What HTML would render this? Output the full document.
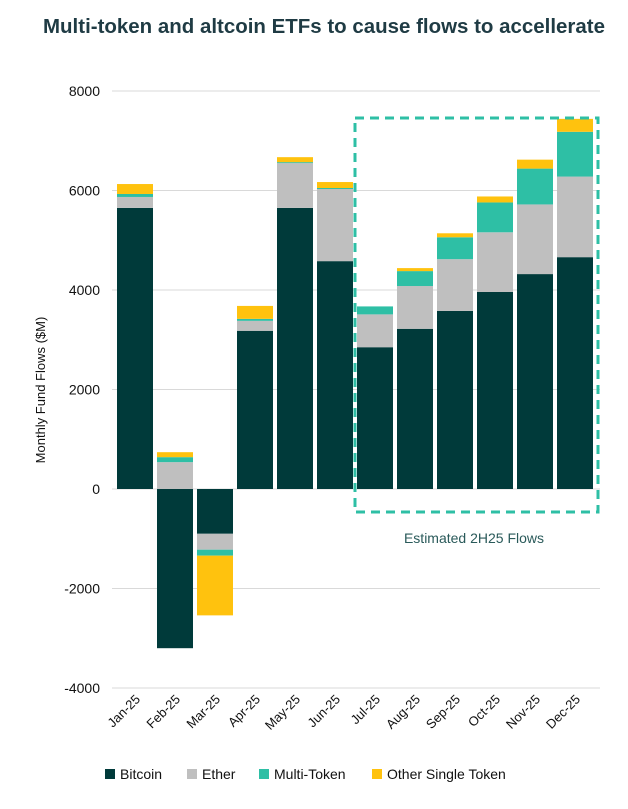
<!DOCTYPE html>
<html><head><meta charset="utf-8"><style>
body{margin:0;background:#fff;font-family:"Liberation Sans",sans-serif}
</style></head><body>
<svg id="chart" width="628" height="804" xmlns="http://www.w3.org/2000/svg">
<text x="324" y="33" text-anchor="middle" font-size="20" font-weight="bold" fill="#1f3b44" textLength="562" lengthAdjust="spacingAndGlyphs">Multi-token and altcoin ETFs to cause flows to accellerate</text>
<text transform="translate(45,390) rotate(-90)" text-anchor="middle" font-size="13" fill="#111">Monthly Fund Flows ($M)</text>
<g id="grid"></g><g id="bars"></g><g id="xl"></g>
<rect x="355" y="118" width="243" height="394" fill="none" stroke="#2ebfa5" stroke-width="3" stroke-dasharray="9,6"/>
<text x="474" y="543" text-anchor="middle" font-size="14" fill="#2a5a5a">Estimated 2H25 Flows</text>
<g id="legend"></g>
</svg>
<script>
const categories=["Jan-25","Feb-25","Mar-25","Apr-25","May-25","Jun-25","Jul-25","Aug-25","Sep-25","Oct-25","Nov-25","Dec-25"];
const bitcoin=[5650,-3200,-900,3180,5650,4580,2850,3220,3580,3960,4320,4660];
const ether=[220,540,-320,200,900,1450,660,860,1040,1200,1400,1620];
const multiToken=[60,100,-120,40,20,20,160,300,440,600,720,900];
const otherToken=[200,100,-1200,260,100,120,0,60,80,120,180,260];
const yTicks=[8000,6000,4000,2000,0,-2000,-4000];
const seriesNames=["Bitcoin","Ether","Multi-Token","Other Single Token"];
const colors=["#003a3a","#bfbfbf","#2ebfa5","#ffc20e"];
const NS="http://www.w3.org/2000/svg";
const y=v=>489-v*0.04975;
const x=i=>117+i*40;
function mk(t,a,p){const e=document.createElementNS(NS,t);for(const k in a)e.setAttribute(k,a[k]);p.appendChild(e);return e;}
const grid=document.getElementById('grid');
yTicks.forEach(t=>{
  const l=mk('line',{x1:112,x2:600,y1:y(t),y2:y(t),stroke:'#d9d9d9','stroke-width':1},grid);
  
  
  const tx=mk('text',{x:100,y:y(t)+5,'text-anchor':'end','font-size':14,fill:'#111'},grid);
  tx.textContent=t;
  
  
});
const bars=document.getElementById('bars');
const all=[bitcoin,ether,multiToken,otherToken];
categories.forEach((c,i)=>{
  let pos=0,neg=0;
  all.forEach((s,k)=>{
    const v=s[i];let base;
    if(v>=0){base=pos;pos+=v;}else{base=neg;neg+=v;}
    const top=base+v;
    const r=mk('rect',{x:x(i),width:36,y:Math.min(y(base),y(top)),height:Math.abs(y(base)-y(top)),fill:colors[k]},bars);
    
    
  });
  const t=mk('text',{transform:`translate(${x(i)+24},700) rotate(-45)`,'text-anchor':'end','font-size':13,fill:'#111'},document.getElementById('xl'));
  t.textContent=c;
  
  
});
const lg=document.getElementById('legend');
const lx=[105,187,259,372];
seriesNames.forEach((n,k)=>{
  const g=mk('g',{},lg);
  
  
  mk('rect',{x:lx[k],y:769,width:10,height:10,fill:colors[k]},g);
  const t=mk('text',{x:lx[k]+15,y:779,'font-size':14,fill:'#111'},g);t.textContent=n;
});
</script>
</body></html>
